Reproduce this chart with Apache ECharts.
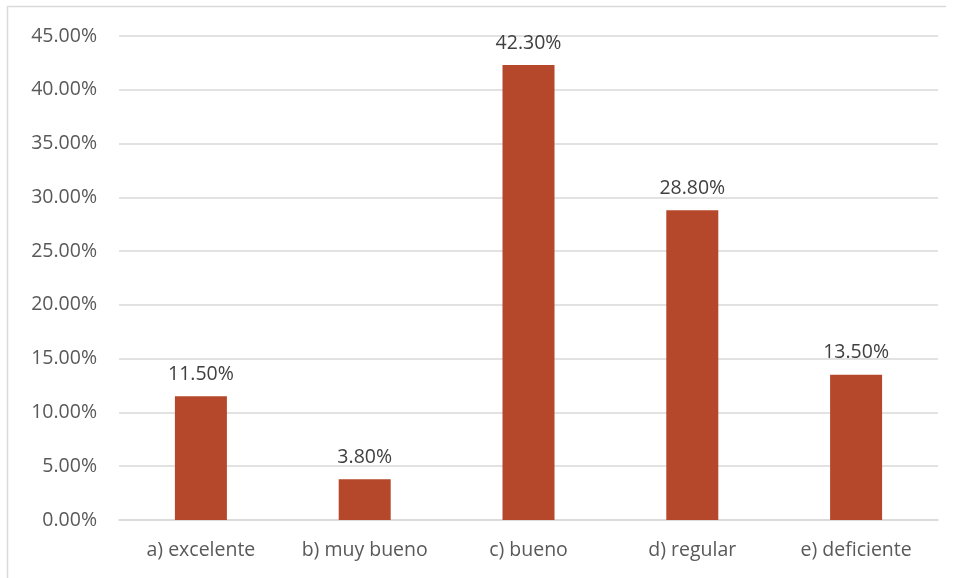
<!DOCTYPE html>
<html><head><meta charset="utf-8">
<script src="https://cdn.jsdelivr.net/npm/echarts@6/dist/echarts.min.js"></script>
<style>html,body{margin:0;padding:0;background:#fff}#c{width:956px;height:578px}</style>
</head><body><div id="c"></div>
<script>
const categories = ['a) excelente', 'b) muy bueno', 'c) bueno', 'd) regular', 'e) deficiente'];
const values = [11.5, 3.8, 42.3, 28.8, 13.5];
const chart = echarts.init(document.getElementById('c'), null, {renderer: 'canvas'});
const font = '"Open Sans", "Noto Sans", sans-serif';
chart.setOption({
  animation: false,
  graphic: [
    {type: 'line', shape: {x1: 7, y1: 6.5, x2: 946, y2: 6.5}, style: {stroke: '#d9d9d9', lineWidth: 1.5}},
    {type: 'line', shape: {x1: 7.5, y1: 6, x2: 7.5, y2: 578}, style: {stroke: '#d9d9d9', lineWidth: 1.5}}
  ],
  grid: {left: 119, right: 18, top: 36, bottom: 58, containLabel: false},
  xAxis: {
    type: 'category', data: categories,
    axisLine: {lineStyle: {color: '#d9d9d9', width: 1.5}},
    axisTick: {show: false},
    axisLabel: {color: '#595959', fontSize: 19.5, fontFamily: font, margin: 20, interval: 0, hideOverlap: false}
  },
  yAxis: {
    type: 'value', min: 0, max: 45, interval: 5,
    axisLine: {show: false}, axisTick: {show: false},
    splitLine: {lineStyle: {color: '#d9d9d9', width: 1.5}},
    axisLabel: {color: '#595959', fontSize: 19.5, fontFamily: font, margin: 22,
      formatter: v => v.toFixed(2) + '%'}
  },
  series: [{
    type: 'bar', data: values, barWidth: 52,
    itemStyle: {color: '#B5472A'},
    label: {show: true, position: 'top', distance: 12, color: '#404040', fontSize: 19.5, fontFamily: font,
      formatter: p => p.value.toFixed(2) + '%'}
  }]
});
</script></body></html>
